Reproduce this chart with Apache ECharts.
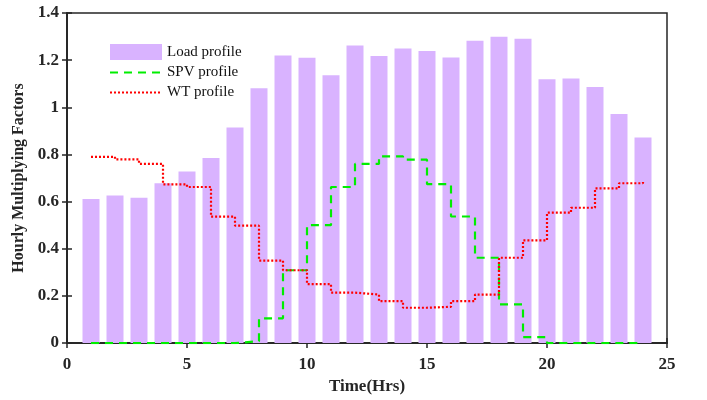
<!DOCTYPE html>
<html>
<head>
<meta charset="utf-8">
<script src="https://cdn.jsdelivr.net/npm/echarts@6/dist/echarts.min.js"></script>
<style>
html,body{margin:0;padding:0;background:#fff;}
#chart{width:707px;height:400px;}
</style>
</head>
<body>
<div id="chart"></div>
<script>
var hours = [1,2,3,4,5,6,7,8,9,10,11,12,13,14,15,16,17,18,19,20,21,22,23,24];
var loadProfile = [0.611,0.626,0.616,0.678,0.728,0.785,0.914,1.081,1.220,1.210,1.136,1.262,1.218,1.249,1.239,1.211,1.282,1.299,1.291,1.119,1.122,1.086,0.972,0.872];
var spvProfile = [0,0,0,0,0,0,0.008,0.105,0.309,0.500,0.662,0.760,0.792,0.778,0.674,0.537,0.362,0.164,0.025,0,0,0,0,0];
var wtProfile = [0.790,0.779,0.760,0.673,0.662,0.536,0.498,0.350,0.309,0.250,0.214,0.206,0.178,0.150,0.154,0.178,0.206,0.362,0.436,0.553,0.574,0.656,0.678,0.687];
var xTicks = {min:0, max:25, interval:5};
var yTicks = {min:0, max:1.4, interval:0.2};

function pairs(xs, ys){ return xs.map(function(x,i){ return [x, ys[i]]; }); }

var font = '"Liberation Serif","Times New Roman",serif';
var axisColor = '#262626';
var chart = echarts.init(document.getElementById('chart'));
chart.setOption({
  animation:false,
  backgroundColor:'#fff',
  grid:{left:67,right:40,top:13,bottom:53,show:true,borderColor:axisColor,borderWidth:1.5,backgroundColor:'transparent'},
  legend:{
    orient:'vertical',left:104,top:39,itemWidth:52,itemHeight:16,itemGap:5,
    textStyle:{fontFamily:font,fontSize:15,color:'#111'},
    data:[
      {name:'Load profile',icon:'rect'},
      {name:'SPV profile',itemStyle:{opacity:0}},
      {name:'WT profile',itemStyle:{opacity:0}}
    ]
  },
  xAxis:[{
    type:'value',min:xTicks.min,max:xTicks.max,interval:xTicks.interval,
    name:'Time(Hrs)',nameLocation:'middle',nameGap:34,
    nameTextStyle:{fontFamily:font,fontSize:17,fontWeight:'bold',color:axisColor},
    axisLine:{show:true,onZero:false,lineStyle:{color:axisColor,width:1.5}},
    axisTick:{show:true,inside:true,length:5,lineStyle:{color:axisColor,width:1.5}},
    axisLabel:{fontFamily:font,fontSize:17,fontWeight:'bold',color:axisColor,margin:13},
    splitLine:{show:false}
  },{
    type:'value',position:'top',min:xTicks.min,max:xTicks.max,interval:xTicks.interval,
    axisLine:{show:true,lineStyle:{color:axisColor,width:1.5}},
    axisTick:{show:true,inside:true,length:5,lineStyle:{color:axisColor,width:1.5}},
    axisLabel:{show:false},splitLine:{show:false}
  }],
  yAxis:[{
    type:'value',min:yTicks.min,max:yTicks.max,interval:yTicks.interval,
    name:'Hourly Multiplying Factors',nameLocation:'middle',nameGap:32,
    nameTextStyle:{fontFamily:font,fontSize:16,fontWeight:'bold',color:axisColor},
    axisLine:{show:true,lineStyle:{color:axisColor,width:1.5}},
    axisTick:{show:true,inside:true,length:5,lineStyle:{color:axisColor,width:1.5}},
    axisLabel:{fontFamily:font,fontSize:17,fontWeight:'bold',color:axisColor,margin:8},
    splitLine:{show:false}
  },{
    type:'value',position:'right',min:yTicks.min,max:yTicks.max,interval:yTicks.interval,
    axisLine:{show:true,lineStyle:{color:axisColor,width:1.5}},
    axisTick:{show:true,inside:true,length:5,lineStyle:{color:axisColor,width:1.5}},
    axisLabel:{show:false},splitLine:{show:false}
  }],
  series:[{
    name:'Load profile',type:'bar',data:pairs(hours,loadProfile),barWidth:17,
    itemStyle:{color:'#D9B3FF'},z:1
  },{
    name:'SPV profile',type:'line',step:'end',data:pairs(hours,spvProfile),
    symbol:'none',showSymbol:false,
    lineStyle:{color:'#00EE00',width:2.2,type:[8,6]},itemStyle:{color:'#00EE00'},z:3
  },{
    name:'WT profile',type:'line',step:'end',data:pairs(hours,wtProfile),
    symbol:'none',showSymbol:false,
    lineStyle:{color:'#FF0000',width:2.2,type:[2,2]},itemStyle:{color:'#FF0000'},z:4
  }]
});
</script>
</body>
</html>
